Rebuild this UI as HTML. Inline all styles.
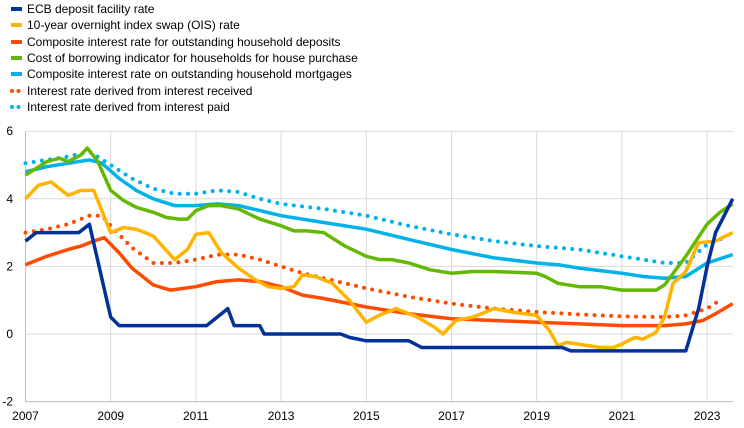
<!DOCTYPE html><html><head><style>body{margin:0;background:#fff}svg{display:block;font-family:"Liberation Sans",sans-serif}</style></head><body>
<svg id="s" width="744" height="428" xmlns="http://www.w3.org/2000/svg">
<g font-size="12" fill="#000">
<line x1="11" y1="9" x2="22" y2="9" stroke="#003299" stroke-width="4"/><text x="27" y="13">ECB deposit facility rate</text>
<line x1="11" y1="25" x2="22" y2="25" stroke="#FFB400" stroke-width="4"/><text x="27" y="29">10-year overnight index swap (OIS) rate</text>
<line x1="11" y1="42" x2="22" y2="42" stroke="#FF4B00" stroke-width="4"/><text x="27" y="46">Composite interest rate for outstanding household deposits</text>
<line x1="11" y1="58" x2="22" y2="58" stroke="#65B800" stroke-width="4"/><text x="27" y="62">Cost of borrowing indicator for households for house purchase</text>
<line x1="11" y1="74" x2="22" y2="74" stroke="#00B1EA" stroke-width="4"/><text x="27" y="78">Composite interest rate on outstanding household mortgages</text>
<line x1="12" y1="91" x2="22" y2="91" stroke="#FF4B00" stroke-width="4" stroke-dasharray="0 6.5" stroke-linecap="round"/><text x="27" y="95">Interest rate derived from interest received</text>
<line x1="12" y1="107" x2="22" y2="107" stroke="#00B1EA" stroke-width="4" stroke-dasharray="0 6.5" stroke-linecap="round"/><text x="27" y="111">Interest rate derived from interest paid</text>
</g>
<g id="grid"></g><g id="lines"></g><g id="lab" font-size="12"></g>
</svg>
<script>
var X=function(y){return 25.5+(y-2007)*42.6},Y=function(v){return 334-v*33.8};
var g=document.getElementById('grid'),l=document.getElementById('lines'),lb=document.getElementById('lab'),ns='http://www.w3.org/2000/svg';
function el(p,t,a,txt){var e=document.createElementNS(ns,t);for(var k in a)e.setAttribute(k,a[k]);if(txt!=null)e.textContent=txt;p.appendChild(e);return e}
for(var v=-2;v<=6;v+=2){el(g,'line',{x1:25.5,x2:733,y1:Y(v),y2:Y(v),stroke:'#d9d9d9','stroke-width':1});el(lb,'text',{x:13,y:Y(v)+4,'text-anchor':'end'},v)}
for(var yr=2007;yr<=2023;yr+=2){el(g,'line',{x1:X(yr),x2:X(yr),y1:Y(6),y2:Y(-2),stroke:'#d9d9d9','stroke-width':1});el(lb,'text',{x:X(yr),y:420,'text-anchor':'middle'},yr)}
el(g,'line',{x1:25.5,x2:25.5,y1:Y(6),y2:Y(-2),stroke:'#bfbfbf'});el(g,'line',{x1:25.5,x2:733,y1:Y(-2),y2:Y(-2),stroke:'#bfbfbf'});
var S=[
['#00B1EA',1,[2007,5.05,2007.5,5.15,2008,5.25,2008.5,5.4,2009,5.0,2009.5,4.6,2010,4.3,2010.5,4.15,2011,4.15,2011.5,4.25,2012,4.2,2012.5,4.0,2013,3.85,2014,3.7,2015,3.5,2016,3.2,2017,2.95,2018,2.75,2019,2.6,2020,2.5,2021,2.3,2021.5,2.2,2022,2.1,2022.5,2.1,2023,2.65,2023.4,2.85]],
['#FF4B00',1,[2007,3.0,2007.5,3.1,2008,3.25,2008.5,3.5,2008.8,3.5,2009,3.2,2009.5,2.55,2010,2.1,2010.5,2.1,2011,2.2,2011.5,2.35,2012,2.35,2012.5,2.2,2013,2.0,2013.5,1.8,2014,1.65,2015,1.35,2016,1.1,2017,0.9,2018,0.75,2019,0.65,2020,0.58,2021,0.52,2022,0.5,2022.5,0.55,2023,0.75,2023.3,1.0]],
['#00B1EA',0,[2007,4.8,2007.5,4.95,2008,5.05,2008.5,5.15,2008.8,5.05,2009.2,4.6,2009.6,4.25,2010,4.0,2010.5,3.8,2011,3.8,2011.5,3.85,2012,3.8,2012.5,3.65,2013,3.5,2014,3.3,2015,3.1,2016,2.8,2017,2.5,2018,2.25,2019,2.1,2019.5,2.05,2020,1.95,2021,1.8,2021.5,1.7,2022,1.65,2022.5,1.7,2023,2.1,2023.6,2.35]],
['#65B800',0,[2007,4.7,2007.5,5.1,2007.8,5.2,2008,5.1,2008.3,5.3,2008.45,5.5,2008.7,5.1,2009,4.25,2009.3,3.95,2009.6,3.75,2010,3.6,2010.3,3.45,2010.6,3.4,2010.8,3.4,2011,3.65,2011.3,3.8,2011.6,3.8,2012,3.7,2012.5,3.4,2013,3.2,2013.3,3.05,2013.6,3.05,2014,3.0,2014.5,2.6,2015,2.3,2015.3,2.2,2015.6,2.2,2016,2.1,2016.5,1.9,2017,1.8,2017.5,1.85,2018,1.85,2019,1.8,2019.2,1.7,2019.5,1.5,2020,1.4,2020.5,1.4,2021,1.3,2021.5,1.3,2021.8,1.3,2022,1.45,2022.5,2.3,2023,3.25,2023.3,3.6,2023.6,3.85]],
['#FF4B00',0,[2007,2.05,2007.5,2.3,2008,2.5,2008.3,2.6,2008.6,2.75,2008.85,2.85,2009.2,2.4,2009.5,1.95,2010,1.45,2010.4,1.3,2011,1.4,2011.5,1.55,2012,1.6,2012.5,1.55,2013,1.4,2013.5,1.15,2014,1.05,2015,0.8,2016,0.6,2017,0.45,2018,0.4,2019,0.35,2020,0.3,2021,0.25,2022,0.25,2022.5,0.3,2022.9,0.4,2023.2,0.6,2023.6,0.9]],
['#FFB400',0,[2007,4.0,2007.3,4.4,2007.6,4.5,2008,4.1,2008.3,4.25,2008.6,4.25,2009,3.0,2009.3,3.15,2009.6,3.1,2010,2.9,2010.5,2.2,2010.8,2.5,2011,2.95,2011.3,3.0,2011.6,2.4,2012,1.95,2012.4,1.6,2012.7,1.4,2013,1.35,2013.3,1.4,2013.5,1.75,2013.8,1.7,2014.2,1.5,2014.6,1.0,2015,0.35,2015.3,0.55,2015.7,0.75,2016.2,0.5,2016.6,0.2,2016.8,0.0,2017.1,0.4,2017.5,0.5,2018,0.75,2018.4,0.65,2018.7,0.6,2019,0.55,2019.3,0.1,2019.5,-0.35,2019.7,-0.25,2020.5,-0.4,2020.8,-0.4,2021,-0.3,2021.3,-0.1,2021.5,-0.15,2021.8,0.05,2022,0.5,2022.2,1.5,2022.5,1.85,2022.8,2.7,2023.2,2.75,2023.6,3.0]],
['#003299',0,[2007,2.75,2007.25,3,2008.25,3,2008.5,3.25,2009,0.5,2009.2,0.25,2011.25,0.25,2011.75,0.75,2011.9,0.25,2012.5,0.25,2012.6,0,2014.4,0,2014.6,-0.1,2015,-0.2,2016,-0.2,2016.3,-0.4,2019.6,-0.4,2019.8,-0.5,2022.5,-0.5,2022.8,0.75,2023,2,2023.2,3,2023.6,4]]];
S.forEach(function(s){var p=[];for(var i=0;i<s[2].length;i+=2)p.push(X(s[2][i]).toFixed(1)+','+Y(s[2][i+1]).toFixed(1));
var a={points:p.join(' '),fill:'none',stroke:s[0],'stroke-width':s[1]?4:3.5,'stroke-linejoin':'round'};if(s[1]){a['stroke-dasharray']='0 8.3';a['stroke-linecap']='round'}el(l,'polyline',a)});
</script></body></html>
